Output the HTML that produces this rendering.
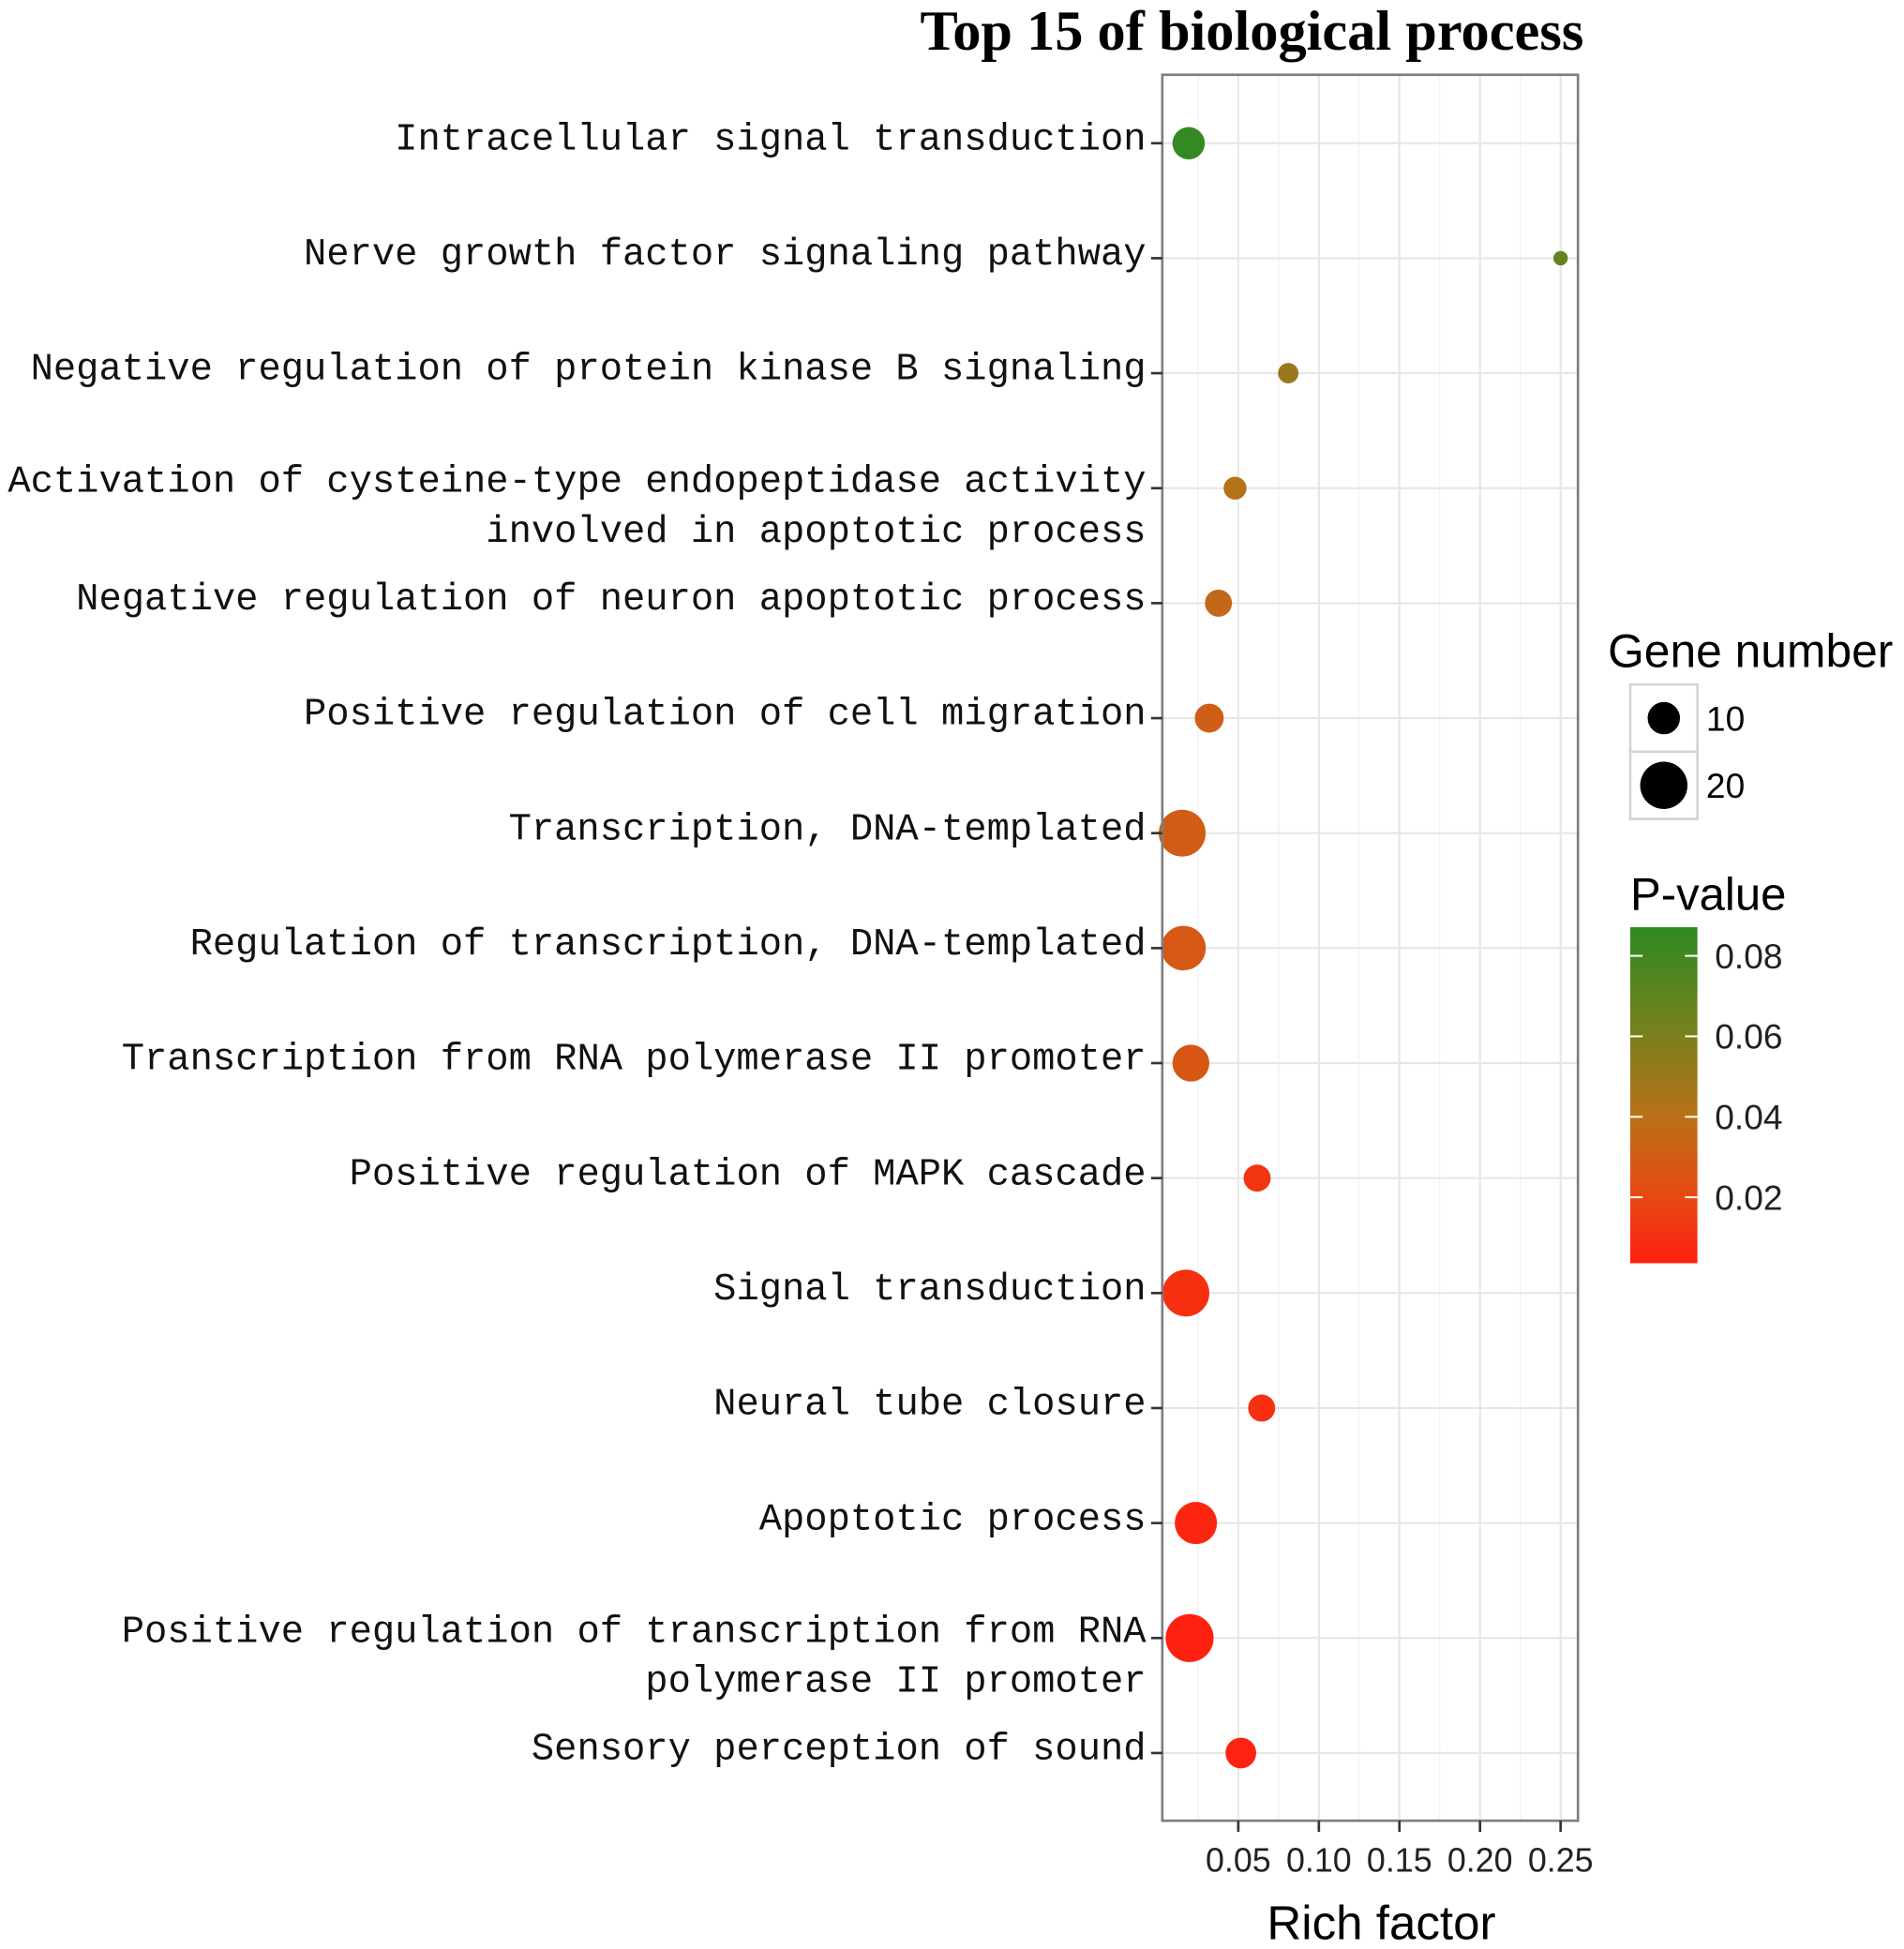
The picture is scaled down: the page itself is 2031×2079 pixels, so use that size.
<!DOCTYPE html>
<html><head><meta charset="utf-8"><style>
html,body{margin:0;padding:0;background:#fff;}
svg{display:block;}
</style></head><body>
<svg id="chart" width="2031" height="2079" viewBox="0 0 1530 1566" xmlns="http://www.w3.org/2000/svg">
<text x="1006" y="40" text-anchor="middle" font-family="Liberation Serif, serif" font-weight="bold" font-size="45.5">Top 15 of biological process</text>
<g id="grid"></g>
<g id="points"></g>
<rect x="934" y="60" width="334" height="1403" fill="none" stroke="#7f7f7f" stroke-width="2"/>
<g id="ylabels" font-family="Liberation Mono, monospace" font-size="30.5" fill="#111"></g>
<g id="xaxis" font-family="Liberation Sans, sans-serif" font-size="27" fill="#222"></g>
<text x="1110" y="1558" text-anchor="middle" font-family="Liberation Sans, sans-serif" font-size="38.5">Rich factor</text>
<g font-family="Liberation Sans, sans-serif">
<text x="1292" y="536" font-size="37.5">Gene number</text>
<rect x="1310" y="550" width="54" height="54" fill="#fff" stroke="#d4d4d4" stroke-width="2"/>
<rect x="1310" y="604" width="54" height="54" fill="#fff" stroke="#d4d4d4" stroke-width="2"/>
<circle id="k10" cx="1337" cy="577" r="13" fill="#000"/>
<circle id="k20" cx="1337" cy="631" r="19" fill="#000"/>
<text x="1371" y="587" font-size="28">10</text>
<text x="1371" y="641" font-size="28">20</text>
</g>
<g font-family="Liberation Sans, sans-serif">
<text x="1310" y="731" font-size="37">P-value</text>
<defs><linearGradient id="cg" x1="0" y1="1" x2="0" y2="0"></linearGradient></defs>
<rect x="1310" y="745" width="54" height="270" fill="url(#cg)"/>
<g id="cticks"></g>
</g>
</svg>
<script>
const categories = ["Intracellular signal transduction","Nerve growth factor signaling pathway","Negative regulation of protein kinase B signaling","Activation of cysteine-type endopeptidase activity|involved in apoptotic process ","Negative regulation of neuron apoptotic process","Positive regulation of cell migration","Transcription, DNA-templated","Regulation of transcription, DNA-templated","Transcription from RNA polymerase II promoter","Positive regulation of MAPK cascade ","Signal transduction ","Neural tube closure ","Apoptotic process ","Positive regulation of transcription from RNA|polymerase II promoter ","Sensory perception of sound"];
const richFactor = [0.0192,0.25,0.081,0.048,0.0377,0.032,0.0152,0.016,0.0206,0.0617,0.0175,0.0645,0.0237,0.0198,0.0516];
const geneNumber = [10,2,4,5,7,8,21,19,13,7,21,7,17,22,9];
const pValue = [0.085,0.068,0.05,0.042,0.036,0.031,0.03,0.028,0.027,0.012,0.01,0.01,0.006,0.004,0.005];
const xTicks = [0.05,0.10,0.15,0.20,0.25];
const xTickLabels = ["0.05","0.10","0.15","0.20","0.25"];
const cTicks = [0.02,0.04,0.06,0.08];
const cTickLabels = ["0.02","0.04","0.06","0.08"];

const NS='http://www.w3.org/2000/svg';
function mk(t,a,p){const e=document.createElementNS(NS,t);for(const k in a)e.setAttribute(k,a[k]);p.appendChild(e);return e;}
const xScale = v => 930.3 + v*1295;
const yScale = i => 115 + i*92.4;
const rScale = n => 4.11*Math.sqrt(n);
const cY = p => 962 - (p-0.02)*3233;
const stops=[[0.0036,[255,32,16]],[0.02,[232,72,18]],[0.04,[186,112,25]],[0.06,[122,128,28]],[0.087,[46,138,34]]];
function col(p){
  if(p<=stops[0][0])return 'rgb('+stops[0][1]+')';
  for(let i=1;i<stops.length;i++){if(p<=stops[i][0]){const a=stops[i-1],b=stops[i];const t=(p-a[0])/(b[0]-a[0]);return 'rgb('+a[1].map((v,j)=>Math.round(v+(b[1][j]-v)*t)).join(',')+')';}}
  return 'rgb('+stops[stops.length-1][1]+')';
}
const grid=document.getElementById('grid');
for(let v=0.025;v<0.27;v+=0.025){
  const major=Math.abs((v/0.05)-Math.round(v/0.05))<1e-6;
  const l=mk('line',{x1:xScale(v),x2:xScale(v),y1:60,y2:1463,stroke:major?'#e6e6e6':'#f2f2f2','stroke-width':major?1.6:1},grid);
  
  
}
categories.forEach((c,i)=>{
  const l=mk('line',{x1:934,x2:1268,y1:yScale(i),y2:yScale(i),stroke:'#e6e6e6','stroke-width':1.6},grid);
  
  
});
const pts=document.getElementById('points');
categories.forEach((c,i)=>{
  const e=mk('circle',{cx:xScale(richFactor[i]),cy:yScale(i),r:rScale(geneNumber[i]),fill:col(pValue[i])},pts);
  
  
});
const yl=document.getElementById('ylabels');
categories.forEach((c,i)=>{
  const y=yScale(i);
  const t=mk('line',{x1:925,x2:934,y1:y,y2:y,stroke:'#333','stroke-width':2},yl);
  
  
  const parts=c.split('|');
  parts.forEach((p,j)=>{
    const yy = parts.length>1 ? y-4+j*40+7 : y+5;
    const tx=mk('text',{x:921,y:yy,'text-anchor':'end','xml:space':'preserve'},yl);
    
    
    tx.textContent = p;
  });
});
const xa=document.getElementById('xaxis');
xTicks.forEach((v,i)=>{
  const t=mk('line',{x1:xScale(v),x2:xScale(v),y1:1463,y2:1472,stroke:'#333','stroke-width':2},xa);
  
  
  const tx=mk('text',{x:xScale(v),y:1504,'text-anchor':'middle'},xa);
  
  
  tx.textContent=xTickLabels[i];
});
const g=document.getElementById('cg');
for(let k=0;k<=20;k++){
  const p=0.0036+(0.087-0.0036)*k/20;
  mk('stop',{offset:(k/20),'stop-color':col(p)},g);
}
const ct=document.getElementById('cticks');
cTicks.forEach((v,i)=>{
  const y=cY(v);
  const a=mk('line',{x1:1310,x2:1320,y1:y,y2:y,stroke:'#fff','stroke-width':1.5},ct);
  
  
  const b=mk('line',{x1:1354,x2:1364,y1:y,y2:y,stroke:'#fff','stroke-width':1.5},ct);
  
  
  const tx=mk('text',{x:1378,y:y+10,'font-size':28,fill:'#222'},ct);
  
  
  tx.textContent=cTickLabels[i];
});
</script>
</body></html>
